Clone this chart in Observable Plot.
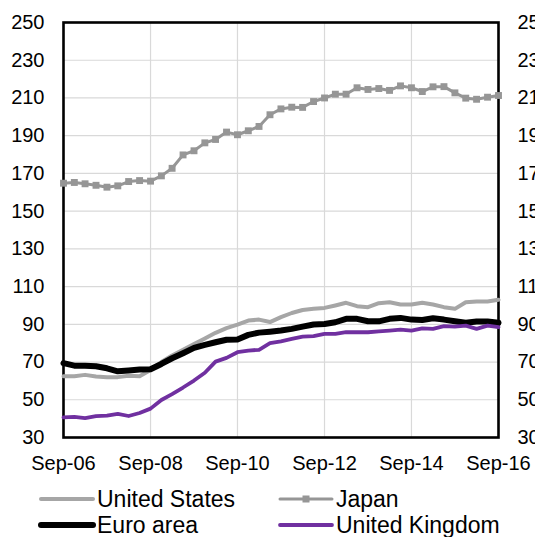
<!DOCTYPE html>
<html>
<head>
<meta charset="utf-8">
<script src="https://cdn.jsdelivr.net/npm/d3@7"></script>
<script src="https://cdn.jsdelivr.net/npm/@observablehq/plot@0.6"></script>
<style>
  html, body { margin: 0; padding: 0; background: white; }
  #chart svg { display: block; }
  #legend { display: block; }
</style>
</head>
<body>
<div id="chart"></div>
<script>
const quarters = ["2006-09","2006-12","2007-03","2007-06","2007-09","2007-12","2008-03","2008-06",
  "2008-09","2008-12","2009-03","2009-06","2009-09","2009-12","2010-03","2010-06",
  "2010-09","2010-12","2011-03","2011-06","2011-09","2011-12","2012-03","2012-06",
  "2012-09","2012-12","2013-03","2013-06","2013-09","2013-12","2014-03","2014-06",
  "2014-09","2014-12","2015-03","2015-06","2015-09","2015-12","2016-03","2016-06","2016-09"];

const unitedStates = [62.5, 62.5, 63.2, 62.3, 62, 62, 62.7, 62.5, 65.8, 70, 73.5, 76.5, 79.5, 82.5, 85.5, 88,
  89.8, 92, 92.5, 91.2, 93.8, 96, 97.6, 98.2, 98.7, 100, 101.4, 99.6, 99.1, 101.2, 101.7, 100.5,
  100.5, 101.4, 100.5, 99.1, 98.2, 101.7, 102.1, 102.1, 103];

const euroArea = [69.4, 68.1, 68.1, 67.8, 66.7, 65.1, 65.5, 66, 66.2, 69, 72, 74.7, 77.5, 79.1, 80.5, 81.8,
  82, 84.4, 85.6, 86.1, 86.7, 87.6, 88.8, 89.9, 90.2, 91.1, 92.9, 92.9, 91.6, 91.6, 92.9, 93.4,
  92.5, 92.3, 93.2, 92.5, 91.6, 90.8, 91.5, 91.5, 90.8];

const japan = [164.8, 165.2, 164.5, 163.7, 162.7, 163.4, 165.7, 166.2, 165.9, 168.7, 172.7, 179.8, 182, 186.2, 188, 191.9,
  190.5, 192.6, 194.9, 201.1, 204.2, 205.1, 205, 208.1, 210, 212, 212, 215.4, 214.5, 215, 214, 216.4,
  215.4, 213.4, 215.9, 216, 212.7, 209.9, 209.3, 210.4, 211.3];

const unitedKingdom = [40.7, 40.9, 40.3, 41.3, 41.6, 42.5, 41.4, 43, 45.3, 49.9, 53, 56.5, 60.2, 64.3, 70.2, 72.2,
  75.2, 76.1, 76.5, 80, 81, 82.3, 83.5, 83.7, 84.9, 84.9, 85.8, 85.8, 85.8, 86.3, 86.7, 87.2,
  86.7, 87.9, 87.6, 89, 88.8, 89.3, 87.6, 89.3, 88.5];

const xTickLabels = ["2006-09","2008-09","2010-09","2012-09","2014-09","2016-09"];
const yTicks = [30, 50, 70, 90, 110, 130, 150, 170, 190, 210, 230, 250];
const seriesNames = ["United States", "Japan", "Euro area", "United Kingdom"];

const parse = d3.utcParse("%Y-%m");
const dates = quarters.map(parse);
const xTicks = xTickLabels.map(parse);
const rows = vals => vals.map((v, i) => ({date: dates[i], value: v}));

const usRows = rows(unitedStates);
const euRows = rows(euroArea);
const jpRows = rows(japan);
const ukRows = rows(unitedKingdom);

const colUS = "#a6a6a6", colJP = "#969696", colEU = "#000000", colUK = "#7030a0";

const chart = Plot.plot({
  width: 535,
  height: 475,
  marginTop: 22,
  marginBottom: 38,
  marginLeft: 63,
  marginRight: 37,
  style: {fontFamily: "Arial, 'Liberation Sans', sans-serif", fontSize: "20px", color: "black", background: "white"},
  x: {type: "utc", domain: [dates[0], dates[dates.length - 1]], label: null},
  y: {domain: [30, 250], label: null},
  marks: [
    Plot.gridY(yTicks, {stroke: "#d9d9d9", strokeOpacity: 1, strokeWidth: 1.2}),
    Plot.gridX(xTicks, {stroke: "#d9d9d9", strokeOpacity: 1, strokeWidth: 1.2}),
    Plot.axisY(yTicks, {anchor: "left", tickSize: 0, tickPadding: 19, fontSize: 20}),
    Plot.axisY(yTicks, {anchor: "right", tickSize: 0, tickPadding: 19, fontSize: 20, textAnchor: "start"}),
    Plot.axisX(xTicks, {anchor: "bottom", tickSize: 0, tickPadding: 18, fontSize: 20, tickFormat: d3.utcFormat("%b-%y")}),
    Plot.frame({stroke: "black", strokeWidth: 2.6}),
    Plot.lineY(usRows, {x: "date", y: "value", stroke: colUS, strokeWidth: 4}),
    Plot.lineY(jpRows, {x: "date", y: "value", stroke: colJP, strokeWidth: 3}),
    Plot.dot(jpRows, {x: "date", y: "value", symbol: "square", r: 3.9, fill: colJP, stroke: "none"}),
    Plot.lineY(euRows, {x: "date", y: "value", stroke: colEU, strokeWidth: 6}),
    Plot.lineY(ukRows, {x: "date", y: "value", stroke: colUK, strokeWidth: 3.8})
  ]
});
document.getElementById("chart").appendChild(chart);

// Legend below the chart
const legendItems = [
  {name: seriesNames[0], color: colUS, width: 4, marker: false, x: 41, y: 24},
  {name: seriesNames[1], color: colJP, width: 3, marker: true, x: 280, y: 24},
  {name: seriesNames[2], color: colEU, width: 6, marker: false, x: 41, y: 50},
  {name: seriesNames[3], color: colUK, width: 3.8, marker: false, x: 280, y: 50}
];
const legend = d3.select("body").append("svg")
  .attr("id", "legend")
  .attr("width", 535)
  .attr("height", 62)
  .style("font-family", "Arial, 'Liberation Sans', sans-serif")
  .style("font-size", "23px");
const g = legend.selectAll("g").data(legendItems).join("g")
  .attr("transform", d => `translate(${d.x},${d.y})`);
g.append("line").attr("x1", 0).attr("x2", 52).attr("y1", 0).attr("y2", 0)
  .attr("stroke", d => d.color).attr("stroke-width", d => d.width).attr("stroke-linecap", "round");
g.filter(d => d.marker).append("rect").attr("x", 22.5).attr("y", -3.5).attr("width", 7).attr("height", 7)
  .attr("fill", d => d.color);
g.append("text").attr("x", 56).attr("y", 8).attr("fill", "black").text(d => d.name);
</script>
</body>
</html>
